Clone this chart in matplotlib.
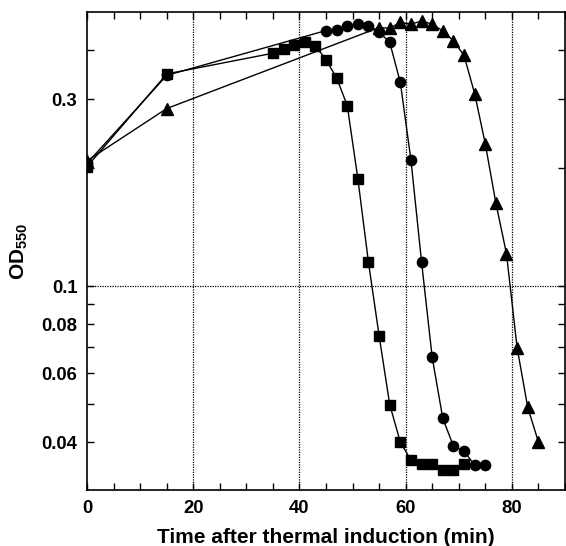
import matplotlib
matplotlib.use("Agg")
import matplotlib.pyplot as plt
from matplotlib.ticker import FixedLocator, NullFormatter, MultipleLocator
import numpy as np

plt.rcParams.update({
    'font.family': 'Liberation Sans',
    'font.weight': 'bold',
    'mathtext.fontset': 'custom',
    'mathtext.rm': 'Liberation Sans:bold',
    'mathtext.bf': 'Liberation Sans:bold',
    'mathtext.it': 'Liberation Sans:bold',
    'mathtext.default': 'rm',
})

# squares
sq_t = [0, 15, 35, 37, 39, 41, 43, 45, 47, 49, 51, 53, 55, 57, 59, 61, 63, 65, 67, 69, 71]
sq_od = [0.202, 0.348, 0.393, 0.403, 0.413, 0.419, 0.411, 0.378, 0.340, 0.289, 0.188,
         0.115, 0.0748, 0.0499, 0.0400, 0.0360, 0.0351, 0.0351, 0.0340, 0.0340, 0.0351]

# circles
ci_t = [0, 15, 45, 47, 49, 51, 53, 55, 57, 59, 61, 63, 65, 67, 69, 71, 73, 75]
ci_od = [0.206, 0.345, 0.449, 0.451, 0.462, 0.466, 0.462, 0.445, 0.419, 0.331, 0.210,
         0.1153, 0.0659, 0.0460, 0.0391, 0.0379, 0.0350, 0.0350]

# triangles
tr_t = [0, 15, 55, 57, 59, 61, 63, 65, 67, 69, 71, 73, 75, 77, 79, 81, 83, 85]
tr_od = [0.209, 0.284, 0.457, 0.455, 0.471, 0.466, 0.475, 0.466, 0.448, 0.423, 0.388,
         0.310, 0.231, 0.163, 0.121, 0.0697, 0.0491, 0.0401]

fig = plt.figure(figsize=(5.66, 5.46), dpi=100)
ax = fig.add_axes([0.154, 0.1026, 0.844, 0.875])

ax.set_yscale('log')
ax.set_xlim(0, 90)
ax.set_ylim(0.0302, 0.5)

# dotted reference lines
for xv in [20, 40, 60, 80]:
    ax.axvline(xv, color='black', ls=(0, (1, 1)), lw=0.9, zorder=1)
ax.axhline(0.1, color='black', ls=(0, (1, 1)), lw=0.9, zorder=1)

ax.plot(sq_t, sq_od, color='black', lw=1.0, marker='s', ms=7.8, zorder=3)
ax.plot(ci_t, ci_od, color='black', lw=1.0, marker='o', ms=7.4, zorder=3)
ax.plot(tr_t, tr_od, color='black', lw=1.0, marker='^', ms=8.0, zorder=3)

# ticks
ax.xaxis.set_major_locator(MultipleLocator(20))
ax.xaxis.set_minor_locator(MultipleLocator(5))
ax.yaxis.set_major_locator(FixedLocator([0.04, 0.06, 0.08, 0.1, 0.3]))
ax.yaxis.set_minor_locator(FixedLocator([0.05, 0.07, 0.09, 0.2, 0.4]))
ax.yaxis.set_minor_formatter(NullFormatter())
ax.set_yticklabels(['0.04', '0.06', '0.08', '0.1', '0.3'])
ax.tick_params(which='both', direction='in', top=True, right=True,
               length=5, width=1, labelsize=13.3, pad=7)

for s in ax.spines.values():
    s.set_linewidth(1.2)

ax.set_xlabel('Time after thermal induction (min)', fontsize=15, fontweight='bold', labelpad=8)
ax.set_ylabel(r'$\mathrm{OD}_{550}$', fontsize=15, labelpad=8)

fig.savefig('out.png', dpi=100)
